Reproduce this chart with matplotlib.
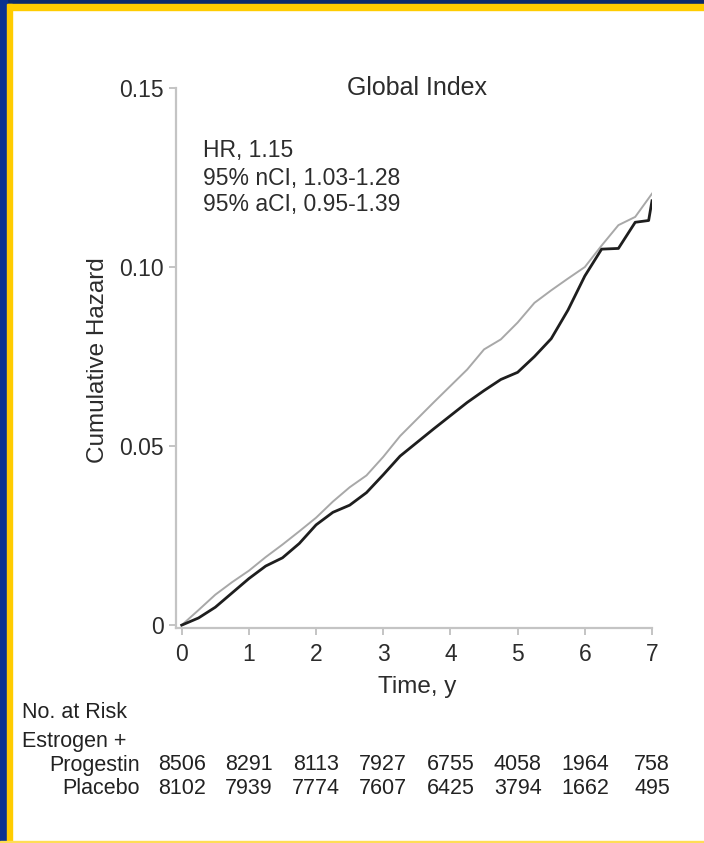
import matplotlib
matplotlib.use("Agg")
import matplotlib.pyplot as plt
from matplotlib.patches import Rectangle

plt.rcParams['font.family'] = ['Liberation Sans', 'DejaVu Sans']

# cumulative hazard, read at quarter-year steps
years = [0.00, 0.25, 0.50, 0.75, 1.00, 1.25, 1.50, 1.75, 2.00, 2.25, 2.50,
         2.75, 3.00, 3.25, 3.50, 3.75, 4.00, 4.25, 4.50, 4.75, 5.00, 5.25,
         5.50, 5.75, 6.00, 6.25, 6.50, 6.75, 7.00]
hazard_ep = [0.0000, 0.0042, 0.0085, 0.0120, 0.0152, 0.0190, 0.0225, 0.0262,
             0.0300, 0.0345, 0.0385, 0.0418, 0.0470, 0.0528, 0.0575, 0.0622,
             0.0668, 0.0714, 0.0770, 0.0798, 0.0845, 0.0900, 0.0935, 0.0968,
             0.1000, 0.1060, 0.1117, 0.1140, 0.1205]

years_pl = [0.00, 0.25, 0.50, 0.75, 1.00, 1.25, 1.50, 1.75, 2.00, 2.25, 2.50,
            2.75, 3.00, 3.25, 3.50, 3.75, 4.00, 4.25, 4.50, 4.75, 5.00, 5.25,
            5.50, 5.75, 6.00, 6.25, 6.50, 6.75, 6.95, 7.00]
hazard_pl = [0.0000, 0.0020, 0.0050, 0.0090, 0.0130, 0.0165, 0.0188, 0.0228,
             0.0280, 0.0315, 0.0335, 0.0370, 0.0420, 0.0472, 0.0510, 0.0548,
             0.0585, 0.0622, 0.0655, 0.0686, 0.0706, 0.0750, 0.0800, 0.0880,
             0.0975, 0.1050, 0.1052, 0.1125, 0.1130, 0.1185]

yticks = [0, 0.05, 0.10, 0.15]
ytick_labels = ["0", "0.05", "0.10", "0.15"]
xticks = [0, 1, 2, 3, 4, 5, 6, 7]

risk_ep = [8506, 8291, 8113, 7927, 6755, 4058, 1964, 758]
risk_pl = [8102, 7939, 7774, 7607, 6425, 3794, 1662, 495]

stats_lines = ["HR, 1.15", "95% nCI, 1.03-1.28", "95% aCI, 0.95-1.39"]

W, H = 704, 843
fig = plt.figure(figsize=(W / 100, H / 100), dpi=100)


def fx(x):
    return x / W


def fy(y):
    return 1 - y / H


# frame: navy and yellow bands on top and left, thin yellow at bottom
fig.patches.append(Rectangle((0, fy(4)), 1, 4 / H, transform=fig.transFigure,
                             color="#0b2a6b", zorder=0))
fig.patches.append(Rectangle((0, fy(10)), 1, 6 / H, transform=fig.transFigure,
                             color="#ffcc00", zorder=0))
fig.patches.append(Rectangle((0, 0), 7 / W, 1, transform=fig.transFigure,
                             color="#0a3290", zorder=0))
fig.patches.append(Rectangle((7 / W, 0), 5 / W, fy(4), transform=fig.transFigure,
                             color="#ffcc00", zorder=0))
fig.patches.append(Rectangle((0, 0), 1, 2 / H, transform=fig.transFigure,
                             color="#ffdd55", zorder=0))

ax = fig.add_axes([fx(176), fy(628), fx(652) - fx(176), fy(88) - fy(628)])
ax.plot(years, hazard_ep, color="#a8a8a8", lw=1.4)
ax.plot(years_pl, hazard_pl, color="#1e1e1e", lw=2.0)

ax.set_xlim(-0.085, 7.0)
ax.set_ylim(-0.0008, 0.15)
ax.set_xticks(xticks)
ax.set_yticks(yticks)
ax.set_yticklabels(ytick_labels)

for s in ["top", "right"]:
    ax.spines[s].set_visible(False)
for s in ["left", "bottom"]:
    ax.spines[s].set_color("#c4c4c4")
    ax.spines[s].set_linewidth(1.6)
ax.tick_params(colors="#c4c4c4", width=1.4, length=5, labelsize=16.5,
               labelcolor="#2c2c2c")
ax.tick_params(axis="x", pad=6)
ax.tick_params(axis="y", pad=4)

fig.text(fx(98), fy(360), "Cumulative Hazard", rotation=90, ha="center",
         va="center", fontsize=17.5, color="#2c2c2c")
fig.text(fx(417), fy(687), "Time, y", ha="center", va="center",
         fontsize=17.5, color="#2c2c2c")
fig.text(fx(417), fy(88), "Global Index", ha="center", va="center",
         fontsize=18, color="#2c2c2c")
for i, line in enumerate(stats_lines):
    fig.text(fx(203), fy(151 + 27 * i), line, ha="left", va="center",
             fontsize=16.5, color="#2c2c2c")

# numbers at risk under each year tick
fig.text(fx(22), fy(712), "No. at Risk", ha="left", va="center",
         fontsize=15.5, color="#222222")
fig.text(fx(22), fy(741), "Estrogen +", ha="left", va="center",
         fontsize=15.5, color="#222222")
fig.text(fx(140), fy(765), "Progestin", ha="right", va="center",
         fontsize=15.5, color="#222222")
fig.text(fx(140), fy(788), "Placebo", ha="right", va="center",
         fontsize=15.5, color="#222222")
for t, a, b in zip(xticks, risk_ep, risk_pl):
    xd = ax.transData.transform((t, 0))[0] / fig.bbox.width
    fig.text(xd, fy(765), str(a), ha="center", va="center", fontsize=15.5,
             color="#222222")
    fig.text(xd, fy(788), str(b), ha="center", va="center", fontsize=15.5,
             color="#222222")

fig.savefig("out.png", dpi=100, facecolor="white")
